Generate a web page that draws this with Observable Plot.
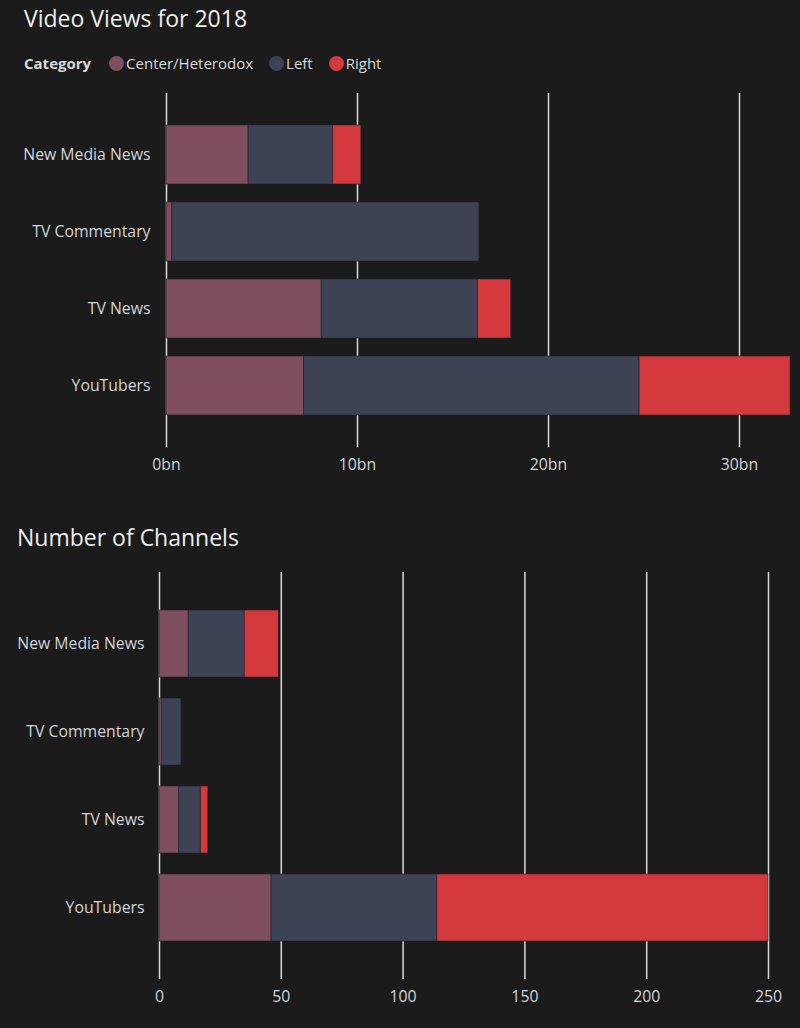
<!DOCTYPE html>
<html>
<head>
<meta charset="utf-8">
<script src="https://cdn.jsdelivr.net/npm/d3@7"></script>
<script src="https://cdn.jsdelivr.net/npm/@observablehq/plot@0.6"></script>
<style>
  html, body { margin: 0; padding: 0; background: #1b1b1b; }
  body { width: 800px; height: 1028px; position: relative; overflow: hidden;
         font-family: "Open Sans", "Noto Sans", sans-serif; color: #e6e6e6; }
  .title { position: absolute; margin: 0; font-weight: 400; font-size: 23px; color: #eeeeee; line-height: 1; }
  .legend { position: absolute; left: 24px; top: 53px; display: flex; align-items: center; font-size: 15px; color: #d8d8d8; }
  .legend .lab { font-weight: 700; margin-right: 18px; }
  .legend .item { display: flex; align-items: center; margin-right: 16px; }
  .legend .dot { width: 15px; height: 15px; border-radius: 50%; margin-right: 2px; }
  .chart { position: absolute; left: 0; }
</style>
</head>
<body>
<h2 class="title" style="left:24px;top:7px">Video Views for 2018</h2>
<div class="legend" id="legend"></div>
<div class="chart" id="views" style="top:80px"></div>
<h2 class="title" style="left:17px;top:526px">Number of Channels</h2>
<div class="chart" id="channels" style="top:559px"></div>
<script>
// Channel groups and political categories
const groups = ["New Media News", "TV Commentary", "TV News", "YouTubers"];
const categories = ["Center/Heterodox", "Left", "Right"];
const categoryColors = ["#7f4f5f", "#3d4354", "#d4393e"];

// Video views in 2018, billions, per group (same order as groups)
const viewsCenter = [4.30, 0.30, 8.13, 7.20];
const viewsLeft   = [4.42, 16.08, 8.18, 17.57];
const viewsRight  = [1.48, 0, 1.74, 7.90];

// Number of channels per group
const channelsCenter = [12, 1, 8, 46];
const channelsLeft   = [23, 8, 9, 68];
const channelsRight  = [14, 0, 3, 136];

// Axis ticks
const viewTicks = [0, 10, 20, 30];
const channelTicks = [0, 50, 100, 150, 200, 250];

function rows(center, left, right) {
  const series = [center, left, right];
  const out = [];
  groups.forEach((g, i) => {
    categories.forEach((c, j) => out.push({group: g, category: c, value: series[j][i]}));
  });
  return out;
}

const viewRows = rows(viewsCenter, viewsLeft, viewsRight);
const channelRows = rows(channelsCenter, channelsLeft, channelsRight);

// Legend
const legend = document.getElementById("legend");
legend.innerHTML = `<span class="lab">Category</span>` + categories.map((c, i) =>
  `<span class="item"><span class="dot" style="background:${categoryColors[i]}"></span>${c}</span>`).join("");

function stackedChart({data, ticks, format, marginLeft, marginRight, height, paddingOuter, yPad}) {
  const totals = d3.rollups(data, v => d3.sum(v, d => d.value), d => d.group);
  return Plot.plot({
    width: 800,
    height,
    marginTop: 13,
    marginBottom: 30,
    marginLeft,
    marginRight,
    style: {background: "transparent", color: "#d2d5da", fontSize: "15.8px", fontFamily: "'Open Sans', 'Noto Sans', sans-serif"},
    x: {domain: [0, d3.max(totals, d => d[1])], ticks, tickFormat: format, tickSize: 0, tickPadding: 11, label: null},
    y: {domain: groups, paddingInner: 0.24, paddingOuter, tickSize: 0, tickPadding: yPad, label: null},
    color: {domain: categories, range: categoryColors},
    marks: [
      Plot.ruleX(ticks, {stroke: "#d9d9d9", strokeWidth: 1.5}),
      Plot.barX(data, Plot.stackX({x: "value", y: "group", fill: "category", stroke: "#23232b", strokeWidth: 1, strokeOpacity: 0.6}))
    ]
  });
}

document.getElementById("views").append(stackedChart({
  data: viewRows, ticks: viewTicks, format: d => d + "bn",
  marginLeft: 166, marginRight: 10, height: 397, paddingOuter: 0.4, yPad: 16
}));

document.getElementById("channels").append(stackedChart({
  data: channelRows, ticks: channelTicks, format: d => d,
  marginLeft: 159, marginRight: 32, height: 450, paddingOuter: 0.41, yPad: 15
}));
</script>
</body>
</html>
